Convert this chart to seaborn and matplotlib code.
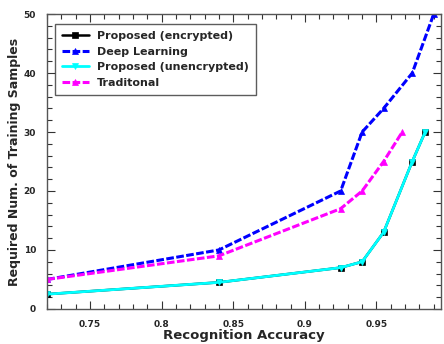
import matplotlib
matplotlib.use("Agg")
import matplotlib.pyplot as plt
from matplotlib.ticker import MultipleLocator
import seaborn as sns
import pandas as pd

# Recognition accuracy vs. required number of training samples
acc_enc = [0.72, 0.84, 0.925, 0.94, 0.955, 0.975, 0.984]
samples_enc = [2.5, 4.5, 7, 8, 13, 25, 30]

acc_dl = [0.72, 0.84, 0.925, 0.94, 0.955, 0.975, 0.99]
samples_dl = [5, 10, 20, 30, 34, 40, 50]

acc_unenc = [0.72, 0.84, 0.925, 0.94, 0.955, 0.975, 0.984]
samples_unenc = [2.5, 4.5, 7, 8, 13, 25, 30]

acc_trad = [0.72, 0.84, 0.925, 0.94, 0.955, 0.968]
samples_trad = [5, 9, 17, 20, 25, 30]

labels = ["Proposed (encrypted)", "Deep Learning", "Proposed (unencrypted)", "Traditonal"]
x_ticks = [0.75, 0.8, 0.85, 0.9, 0.95]
x_tick_labels = ["0.75", "0.8", "0.85", "0.9", "0.95"]
y_ticks = [0, 10, 20, 30, 40, 50]

sns.set_theme(style="ticks")
plt.rcParams["font.family"] = ["DejaVu Sans"]
plt.rcParams["font.weight"] = "bold"

fig = plt.figure(figsize=(4.44, 3.44), dpi=100)
ax = fig.add_axes([0.106, 0.102, 0.887, 0.857])

series = [
    (acc_enc, samples_enc, labels[0], "black", "s", (None, None), 1.8),
    (acc_dl, samples_dl, labels[1], "#0000ff", "^", (2.5, 0.8), 2.2),
    (acc_unenc, samples_unenc, labels[2], "#00ffff", "v", (None, None), 2.0),
    (acc_trad, samples_trad, labels[3], "#ff00ff", "^", (2.5, 0.8), 2.2),
]

for xs, ys, lab, col, mk, dash, lw in series:
    df = pd.DataFrame({"acc": xs, "n": ys})
    line_ax = sns.lineplot(data=df, x="acc", y="n", ax=ax, color=col, marker=mk,
                           markersize=4.2, markeredgewidth=0.5, markeredgecolor=col,
                           linewidth=lw, label=lab, sort=False)
    ln = line_ax.get_lines()[-1]
    if dash[0] is not None:
        ln.set_dashes(dash)

ax.set_xlim(0.72, 0.995)
ax.set_ylim(0, 50)
ax.set_xticks(x_ticks)
ax.set_xticklabels(x_tick_labels)
ax.set_yticks(y_ticks)
ax.xaxis.set_minor_locator(MultipleLocator(0.01))
ax.yaxis.set_minor_locator(MultipleLocator(2))
ax.tick_params(which="both", direction="in", top=True, right=True,
               labelsize=6.5, color="#333333")
ax.tick_params(which="major", length=6, width=0.8, pad=8)
ax.tick_params(which="minor", length=3.5, width=0.8)
for lbl in ax.get_xticklabels() + ax.get_yticklabels():
    lbl.set_fontweight("bold")
for sp in ax.spines.values():
    sp.set_color("#555555")
    sp.set_linewidth(1.0)

ax.set_xlabel("Recognition Accuracy", fontsize=9.5, fontweight="bold", labelpad=0)
ax.set_ylabel("Required Num. of Training Samples", fontsize=9, fontweight="bold", labelpad=2)

leg = ax.legend(loc="upper left", bbox_to_anchor=(0.02, 0.967), fontsize=8,
                frameon=True, fancybox=False, borderpad=0.65, labelspacing=0.5,
                handlelength=2.4, handletextpad=0.75, borderaxespad=0)
leg.get_frame().set_edgecolor("#333333")
leg.get_frame().set_linewidth(1.0)
for t in leg.get_texts():
    t.set_fontweight("bold")

fig.savefig("out.png", dpi=100)
